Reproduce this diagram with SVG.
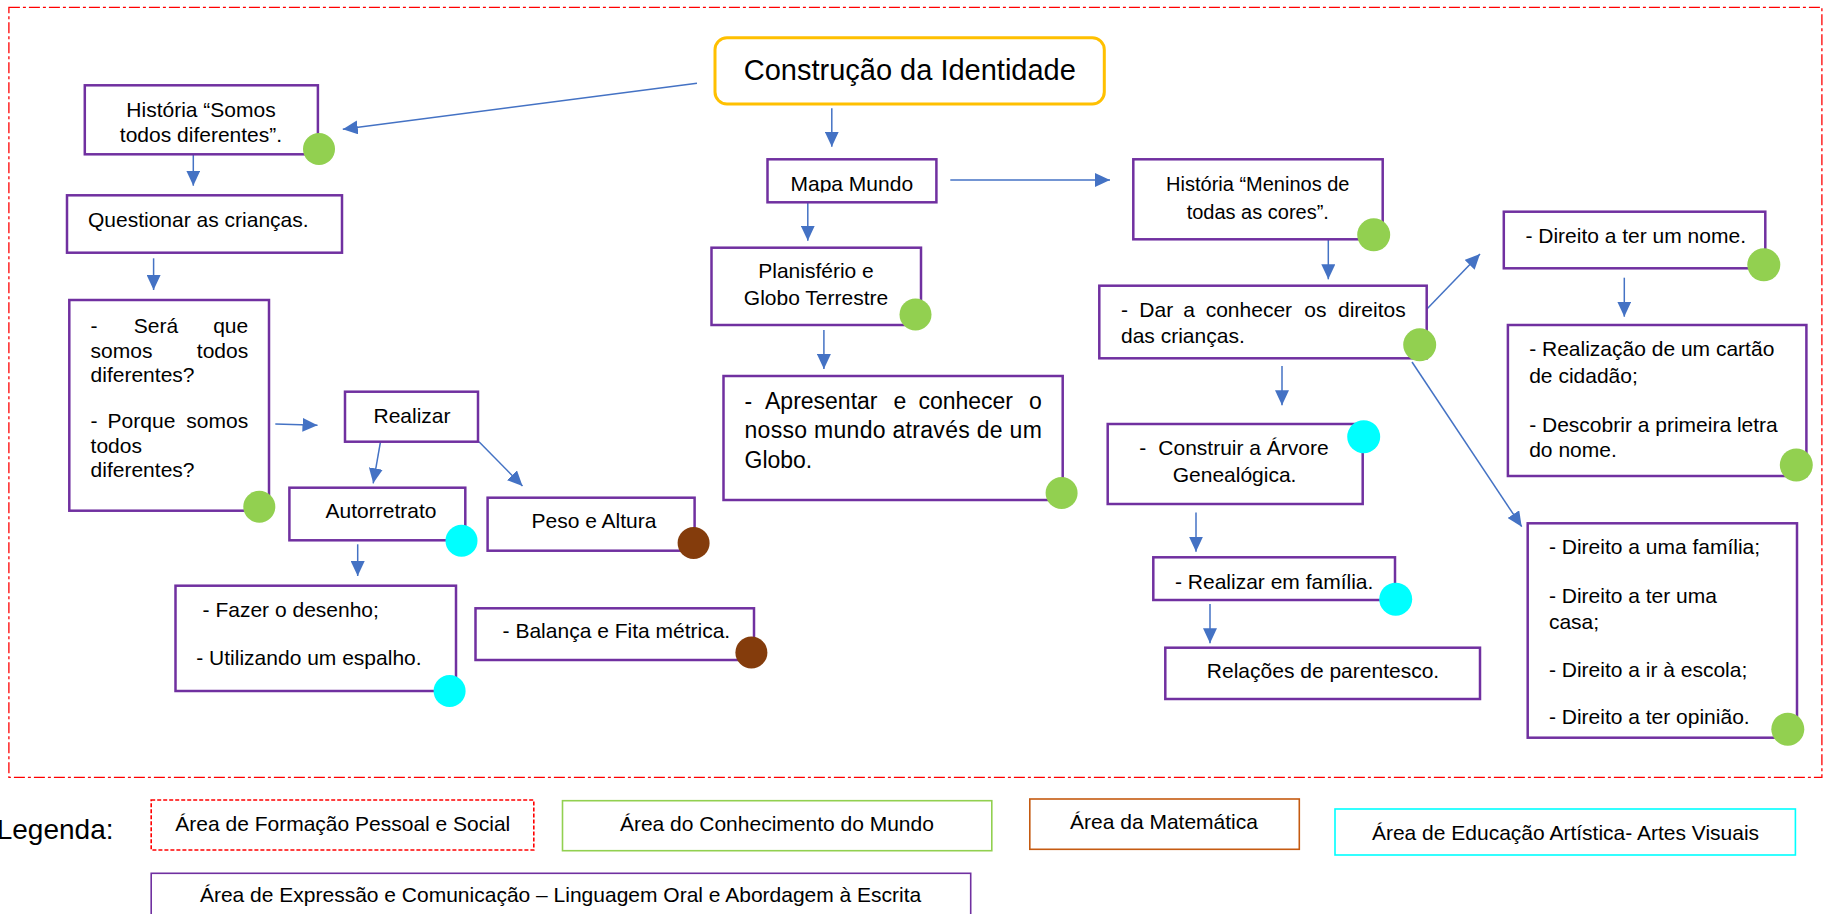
<svg xmlns="http://www.w3.org/2000/svg" width="1825" height="914" viewBox="0 0 1825 914">
<style>
text{font-family:"Liberation Sans",Arial,sans-serif;font-size:21px;fill:#000}
.c{text-anchor:middle}
.e{text-anchor:end}
.box{fill:#fff;stroke:#7030A0;stroke-width:2.5}
.g{fill:#92D050}
.cy{fill:#00FFFF}
.br{fill:#843C0C}
#connectors line{stroke:#4472C4;stroke-width:1.5;marker-end:url(#ah)}
.leg{fill:#fff;stroke-width:1.6}
</style>
<defs>
<marker id="ah" markerUnits="userSpaceOnUse" markerWidth="16" markerHeight="14" refX="15" refY="7" orient="auto">
<path d="M0,0 L15,7 L0,14 z" fill="#4472C4"/>
</marker>
<clipPath id="clipMapa"><rect x="760" y="150" width="190" height="42.5"/></clipPath>
</defs>
<rect width="1825" height="914" fill="#fff"/>
<rect id="frame" x="8.9" y="7.3" width="1813" height="770" fill="none" stroke="#FF0000" stroke-width="1.3" stroke-dasharray="11 3 3 3"/>

<g id="connectors">
<line x1="697" y1="83.3" x2="342.8" y2="129.3"/>
<line x1="193.3" y1="154.3" x2="193.3" y2="185.7"/>
<line x1="153.6" y1="258.3" x2="153.6" y2="290"/>
<line x1="275.3" y1="424" x2="317.5" y2="425.3"/>
<line x1="380.5" y1="441.7" x2="373.2" y2="483.3"/>
<line x1="479" y1="441.7" x2="522.5" y2="486"/>
<line x1="357.7" y1="544.3" x2="357.7" y2="576"/>
<line x1="831.8" y1="108.3" x2="831.8" y2="146.7"/>
<line x1="950.3" y1="180" x2="1110" y2="180"/>
<line x1="807.8" y1="202.3" x2="807.8" y2="240.7"/>
<line x1="823.9" y1="330" x2="823.9" y2="369"/>
<line x1="1328.3" y1="240" x2="1328.3" y2="279.3"/>
<line x1="1282" y1="366" x2="1282" y2="405.3"/>
<line x1="1196" y1="512.5" x2="1196" y2="551.7"/>
<line x1="1210" y1="604" x2="1210" y2="643.3"/>
<line x1="1425" y1="311" x2="1480" y2="254"/>
<line x1="1412" y1="362" x2="1521.7" y2="526.7"/>
<line x1="1624.3" y1="277.7" x2="1624.3" y2="316.7"/>
</g>

<g id="n-central">
<rect x="715" y="37.7" width="389.3" height="66.3" rx="12" fill="#fff" stroke="#FFC000" stroke-width="3"/>
<text class="c" x="909.8" y="80" style="font-size:29px">Construção da Identidade</text>
</g>

<g id="n-somos">
<rect class="box" x="84.8" y="85.3" width="233.1" height="69"/>
<text class="c" x="201" y="116.7">História “Somos</text>
<text class="c" x="201" y="141.7">todos diferentes”.</text>
<circle class="g" cx="319" cy="149" r="16"/>
</g>

<g id="n-questionar">
<rect class="box" x="67" y="195.3" width="275" height="57.4"/>
<text x="88" y="226.7">Questionar as crianças.</text>
</g>

<g id="n-perguntas">
<rect class="box" x="69.3" y="300" width="199.7" height="210.7"/>
<text x="90.6" y="332.7">-</text>
<text x="133.8" y="332.7">Será</text>
<text class="e" x="248.2" y="332.7">que</text>
<text x="90.6" y="358.3">somos</text>
<text class="e" x="248.2" y="358.3">todos</text>
<text x="90.6" y="381.7">diferentes?</text>
<text x="90.6" y="428.3">-</text>
<text x="107.6" y="428.3">Porque</text>
<text class="e" x="248.2" y="428.3">somos</text>
<text x="90.6" y="453.3">todos</text>
<text x="90.6" y="476.7">diferentes?</text>
<circle class="g" cx="259.3" cy="506.7" r="16"/>
</g>

<g id="n-realizar">
<rect class="box" x="345" y="391.7" width="133" height="50"/>
<text class="c" x="412" y="422.7">Realizar</text>
</g>

<g id="n-autorretrato">
<rect class="box" x="289.4" y="487.7" width="175.9" height="52.6"/>
<text class="c" x="381" y="518.3">Autorretrato</text>
<circle class="cy" cx="461.5" cy="540.8" r="16"/>
</g>

<g id="n-peso">
<rect class="box" x="487.6" y="497.7" width="207" height="53"/>
<text class="c" x="594" y="528.3">Peso e Altura</text>
<circle class="br" cx="693.6" cy="543" r="16"/>
</g>

<g id="n-fazer">
<rect class="box" x="175.5" y="585.7" width="280.5" height="105.3"/>
<text x="202.6" y="616.7">- Fazer o desenho;</text>
<text x="196.3" y="665">- Utilizando um espalho.</text>
<circle class="cy" cx="449.6" cy="691" r="16"/>
</g>

<g id="n-balanca">
<rect class="box" x="475.5" y="608.3" width="278.5" height="51.7"/>
<text x="502.6" y="638.3">- Balança e Fita métrica.</text>
<circle class="br" cx="751.4" cy="652.5" r="16"/>
</g>

<g id="n-mapa">
<rect class="box" x="767.5" y="159.3" width="168.9" height="43"/>
<text class="c" x="851.8" y="190.7" clip-path="url(#clipMapa)">Mapa Mundo</text>
</g>

<g id="n-planisferio">
<rect class="box" x="711.5" y="247.7" width="209.5" height="77.3"/>
<text class="c" x="816" y="278.3">Planisfério e</text>
<text class="c" x="816" y="305">Globo Terrestre</text>
<circle class="g" cx="915.5" cy="314.5" r="16"/>
</g>

<g id="n-apresentar" style="font-size:23px">
<rect class="box" x="723.5" y="376" width="339.2" height="124"/>
<text x="744.5" y="409.3" style="font-size:23px">-</text>
<text x="765" y="409.3" style="font-size:23px">Apresentar</text>
<text x="893.5" y="409.3" style="font-size:23px">e</text>
<text x="918.4" y="409.3" style="font-size:23px">conhecer</text>
<text class="e" x="1041.8" y="409.3" style="font-size:23px">o</text>
<text x="744.5" y="438.3" style="font-size:23px" textLength="297.3" lengthAdjust="spacing">nosso mundo através de um</text>
<text x="744.5" y="468.3" style="font-size:23px">Globo.</text>
<circle class="g" cx="1061.6" cy="493" r="16"/>
</g>

<g id="n-meninos">
<rect class="box" x="1133.3" y="159.3" width="249.4" height="80"/>
<text class="c" x="1257.8" y="190.7" style="font-size:20px">História “Meninos de</text>
<text class="c" x="1257.8" y="219.3" style="font-size:20px">todas as cores”.</text>
<circle class="g" cx="1373.7" cy="234.8" r="16.5"/>
</g>

<g id="n-direitos">
<rect class="box" x="1099.3" y="285.7" width="327.4" height="72.6"/>
<text x="1121" y="316.7">-</text>
<text x="1139.3" y="316.7">Dar</text>
<text x="1183.3" y="316.7">a</text>
<text x="1205.7" y="316.7">conhecer</text>
<text x="1304.3" y="316.7">os</text>
<text class="e" x="1405.7" y="316.7">direitos</text>
<text x="1121" y="343.3">das crianças.</text>
<circle class="g" cx="1419.7" cy="344.8" r="16.5"/>
</g>

<g id="n-arvore">
<rect class="box" x="1107.7" y="424" width="255" height="80"/>
<text x="1139.3" y="455">-</text>
<text x="1158.3" y="455">Construir a Árvore</text>
<text x="1172.7" y="481.7">Genealógica.</text>
<circle class="cy" cx="1363.7" cy="436.7" r="16.5"/>
</g>

<g id="n-familia">
<rect class="box" x="1153.3" y="557.3" width="241.7" height="42.7"/>
<text x="1175" y="589.3">- Realizar em família.</text>
<circle class="cy" cx="1395.7" cy="599.2" r="16.5"/>
</g>

<g id="n-relacoes">
<rect class="box" x="1165.3" y="647.7" width="314.7" height="51.3"/>
<text class="c" x="1323" y="678.3">Relações de parentesco.</text>
</g>

<g id="n-nome">
<rect class="box" x="1503.8" y="211.7" width="261.5" height="56.6"/>
<text x="1525.4" y="242.7">- Direito a ter um nome.</text>
<circle class="g" cx="1763.8" cy="264.8" r="16.5"/>
</g>

<g id="n-cartao">
<rect class="box" x="1507.9" y="325" width="298.5" height="151"/>
<text x="1529.2" y="356">- Realização de um cartão</text>
<text x="1529.2" y="382.7">de cidadão;</text>
<text x="1529.2" y="431.7">- Descobrir a primeira letra</text>
<text x="1529.2" y="456.7">do nome.</text>
<circle class="g" cx="1796.3" cy="465" r="16.5"/>
</g>

<g id="n-lista">
<rect class="box" x="1527.7" y="523.3" width="269.3" height="214.4"/>
<text x="1548.9" y="554">- Direito a uma família;</text>
<text x="1548.9" y="602.7">- Direito a ter uma</text>
<text x="1548.9" y="629.3">casa;</text>
<text x="1548.9" y="676.7">- Direito a ir à escola;</text>
<text x="1548.9" y="724.3">- Direito a ter opinião.</text>
<circle class="g" cx="1787.8" cy="729.2" r="16.5"/>
</g>

<g id="legend">
<text class="e" x="113.5" y="839.3" style="font-size:28px">Legenda:</text>
<rect class="leg" x="151.2" y="800" width="382.6" height="50" stroke="#FF0000" stroke-dasharray="4 2"/>
<text class="c" x="342.8" y="830.7">Área de Formação Pessoal e Social</text>
<rect class="leg" x="562.5" y="800.7" width="429.3" height="50" stroke="#92D050"/>
<text class="c" x="776.9" y="830.7">Área do Conhecimento do Mundo</text>
<rect class="leg" x="1029.8" y="799" width="269.5" height="50.3" stroke="#C55A11"/>
<text class="c" x="1164" y="829.3">Área da Matemática</text>
<rect class="leg" x="1335" y="809" width="460.4" height="46" stroke="#00FFFF"/>
<text class="c" x="1565.5" y="840">Área de Educação Artística- Artes Visuais</text>
<rect class="leg" x="151.2" y="873.3" width="819.5" height="50" stroke="#7030A0"/>
<text class="c" x="560.6" y="901.7">Área de Expressão e Comunicação – Linguagem Oral e Abordagem à Escrita</text>
</g>
</svg>
